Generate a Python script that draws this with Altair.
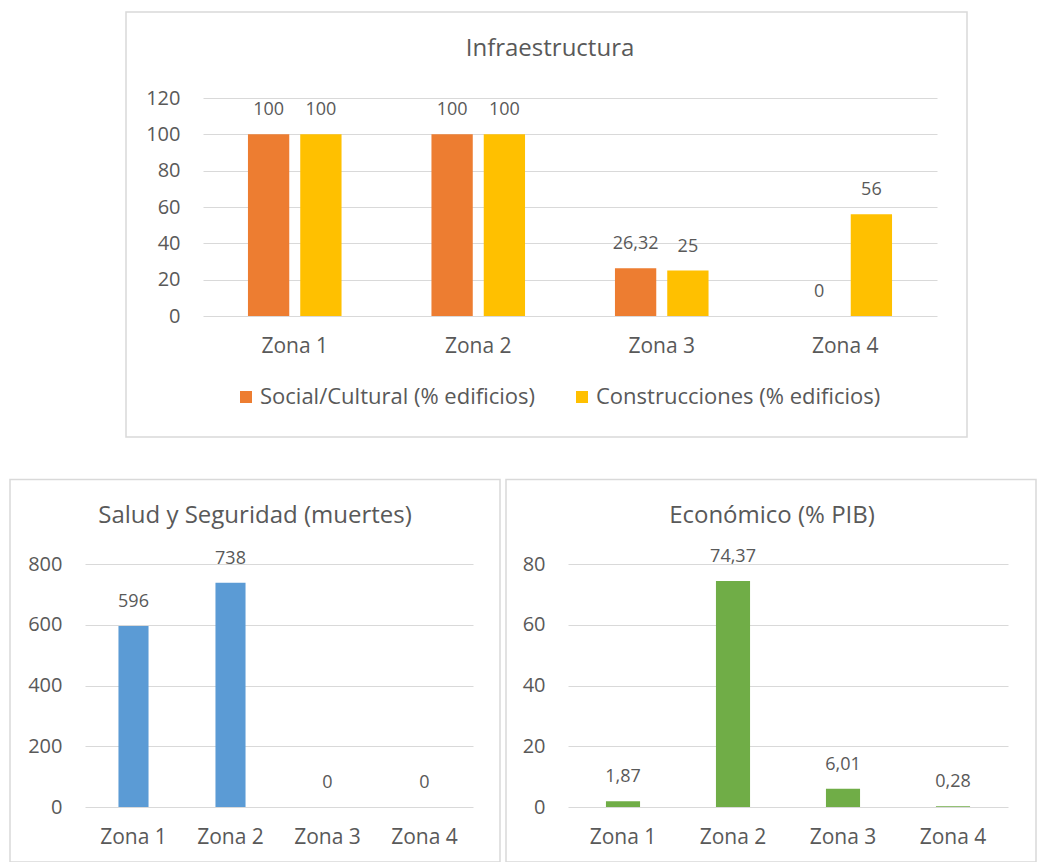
import altair as alt
import pandas as pd

zonas = ["Zona 1", "Zona 2", "Zona 3", "Zona 4"]
series = ["Social/Cultural (% edificios)", "Construcciones (% edificios)"]
social = [100, 100, 26.32, 0]
construcciones = [100, 100, 25, 56]
muertes = [596, 738, 0, 0]
pib = [1.87, 74.37, 6.01, 0.28]

colors_infra = ["#ED7D31", "#FFC000"]
color_salud = "#5B9BD5"
color_econ = "#70AD47"

FONT = "Open Sans"
TXT = "#595959"
GRID = "#D9D9D9"


def fmt(v):
    return f"{v:g}".replace(".", ",")


infra = pd.DataFrame({
    "Zona": zonas * 2,
    "Serie": [series[0]] * 4 + [series[1]] * 4,
    "Valor": social + construcciones,
})
infra["Etiqueta"] = infra["Valor"].map(fmt)

salud = pd.DataFrame({"Zona": zonas, "Valor": muertes})
salud["Etiqueta"] = salud["Valor"].map(fmt)

econ = pd.DataFrame({"Zona": zonas, "Valor": pib})
econ["Etiqueta"] = econ["Valor"].map(fmt)

one = pd.DataFrame({"k": [0]})


def frame(x1, x2, y1, y2):
    return alt.Chart(one).mark_rect(fillOpacity=0, stroke=GRID, strokeWidth=1.5).encode(
        x=alt.value(x1), x2=alt.value(x2), y=alt.value(y1), y2=alt.value(y2))


def box(x1, x2, y1, y2):
    return alt.Chart(one).mark_rect(opacity=0).encode(
        x=alt.value(x1), x2=alt.value(x2), y=alt.value(y1), y2=alt.value(y2))


def heading(text, x, y):
    return alt.Chart(one).mark_text(text=text, fontSize=24, font=FONT, color=TXT,
                                    align="center", baseline="middle").encode(
        x=alt.value(x), y=alt.value(y))


def xaxis(pi):
    return alt.X("Zona:N", sort=zonas, title=None,
                 scale=alt.Scale(paddingInner=pi, paddingOuter=pi / 2),
                 axis=alt.Axis(labelAngle=0, ticks=False, domain=False, labelPadding=19,
                               labelFontSize=21, labelColor=TXT, labelFont=FONT, grid=False))


def yaxis(top, step):
    return alt.Y("Valor:Q", title=None, scale=alt.Scale(domain=[0, top], nice=False),
                 axis=alt.Axis(values=list(range(0, top + 1, step)), grid=True, gridColor=GRID,
                               gridWidth=1, domain=False, ticks=False, labelPadding=23,
                               labelFontSize=20, labelColor=TXT, labelFont=FONT))


def labels(data, x, y, xo=None):
    enc = dict(x=x, y=y, text="Etiqueta:N")
    if xo is not None:
        enc["xOffset"] = xo
    return alt.Chart(data).mark_text(dy=-24, baseline="middle", fontSize=18, color=TXT,
                                     font=FONT).encode(**enc)


# --- Top: Infraestructura ---
xt = xaxis(0.49)
yt = yaxis(120, 20)
xo = alt.XOffset("Serie:N", sort=series, scale=alt.Scale(paddingInner=0.21))
bars_top = alt.Chart(infra).mark_bar().encode(
    x=xt, xOffset=xo, y=yt,
    color=alt.Color("Serie:N", sort=series,
                    scale=alt.Scale(domain=series, range=colors_infra),
                    legend=alt.Legend(orient="none", legendX=150, legendY=288, direction="horizontal",
                                      title=None, symbolType="square", symbolSize=144,
                                      symbolStrokeWidth=0, labelFontSize=22, labelColor=TXT,
                                      labelFont=FONT, columnPadding=36, labelOffset=3,
                                      labelLimit=400)))
top = alt.layer(box(-103, 835, -98, 380), frame(-77, 764, -86, 339),
                heading("Infraestructura", 347, -49),
                bars_top, labels(infra, xt, yt, xo)).properties(width=734, height=218)

# spacer so that the top row starts at the same origin as the bottom row
spacer = box(-85, 15, -98, 380).properties(width=15, height=218)

# --- Bottom left: Salud ---
xs = xaxis(0.69)
ys = yaxis(800, 200)
bars_s = alt.Chart(salud).mark_bar(color=color_salud).encode(x=xs, y=ys)
left = alt.layer(box(-85, 418, -85, 299), frame(-75, 415, -84.5, 298),
                 heading("Salud y Seguridad (muertes)", 170, -48),
                 bars_s, labels(salud, xs, ys)).properties(width=388, height=243)

# --- Bottom right: Económico ---
xe = xaxis(0.69)
ye = yaxis(80, 20)
bars_e = alt.Chart(econ).mark_bar(color=color_econ).encode(x=xe, y=ye)
right = alt.layer(box(-65, 470, -85, 299), frame(-62, 468, -84.5, 298),
                  heading("Económico (% PIB)", 204, -48),
                  bars_e, labels(econ, xe, ye)).properties(width=440, height=243)

top_row = alt.hconcat(spacer, top, spacing=0)
bottom = alt.hconcat(left, right, spacing=0)
chart = alt.vconcat(top_row, bottom, spacing=0).properties(padding=0).configure_view(
    strokeWidth=0).configure_concat(spacing=0)

chart.save("out.html", embed_options={"renderer": "svg", "actions": False})
